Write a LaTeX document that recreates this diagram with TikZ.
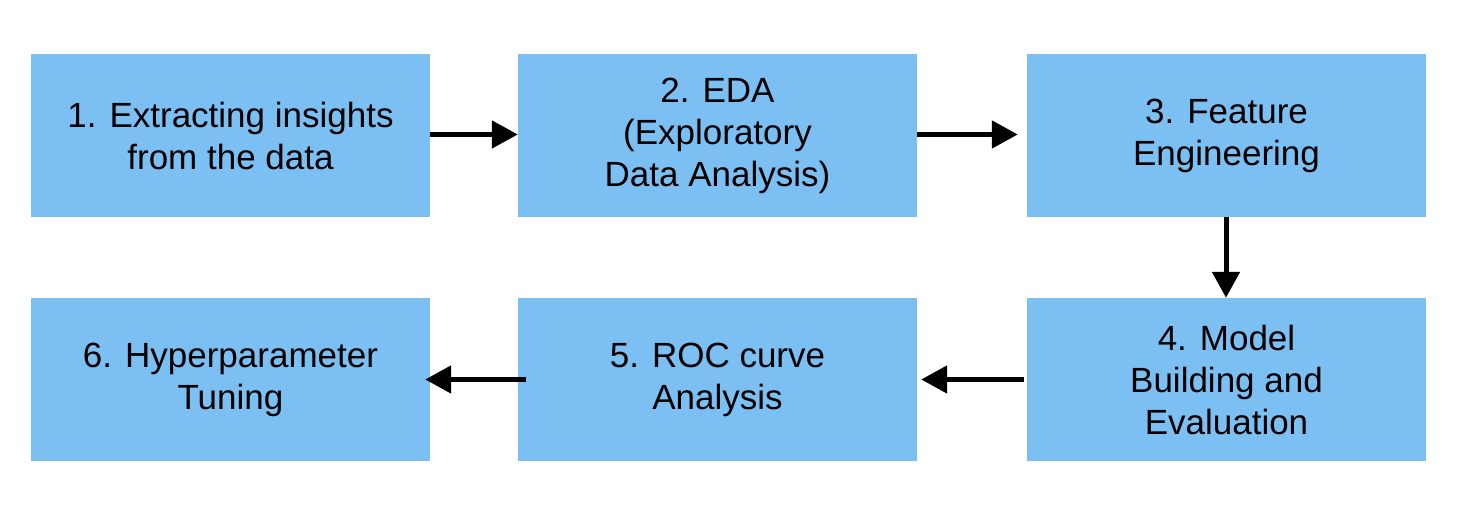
\documentclass[tikz,border=0pt]{standalone}
\usepackage{fontspec}
\setmainfont{Liberation Sans}
\usetikzlibrary{arrows.meta}
\definecolor{boxblue}{RGB}{124,191,242}
\begin{document}
\begin{tikzpicture}[x=1pt,y=1pt,
  stepbox/.style={fill=boxblue,draw=none,minimum width=399pt,minimum height=163pt,inner sep=0pt,align=center,font=\fontsize{35}{42}\selectfont},
  flow/.style={line width=5pt,-{Triangle[length=26pt,width=27pt]}}]
\useasboundingbox (0,0) rectangle (1458,518);
\node[stepbox] (b1) at (230.5,382.5) {1. Extracting insights\\from the data};
\node[stepbox] (b2) at (717.5,382.5) {2. EDA\\(Exploratory\\Data Analysis)};
\node[stepbox] (b3) at (1226.5,382.5) {3. Feature\\Engineering};
\node[stepbox] (b4) at (1226.5,138.5) {4. Model\\Building and\\Evaluation};
\node[stepbox] (b5) at (717.5,138.5) {5. ROC curve\\Analysis};
\node[stepbox] (b6) at (230.5,138.5) {6. Hyperparameter\\Tuning};
\draw[flow] ([yshift=1pt]b1.east) -- ([yshift=1pt]b2.west);
\draw[flow] ([yshift=1pt]b2.east) -- ([xshift=-9pt,yshift=1pt]b3.west);
\draw[flow] ([xshift=-0.5pt]b3.south) -- ([xshift=-0.5pt]b4.north);
\draw[flow] ([xshift=-3pt]b4.west) -- ([xshift=4pt]b5.east);
\draw[flow] ([xshift=8pt]b5.west) -- ([xshift=-5pt]b6.east);
\end{tikzpicture}
\end{document}
